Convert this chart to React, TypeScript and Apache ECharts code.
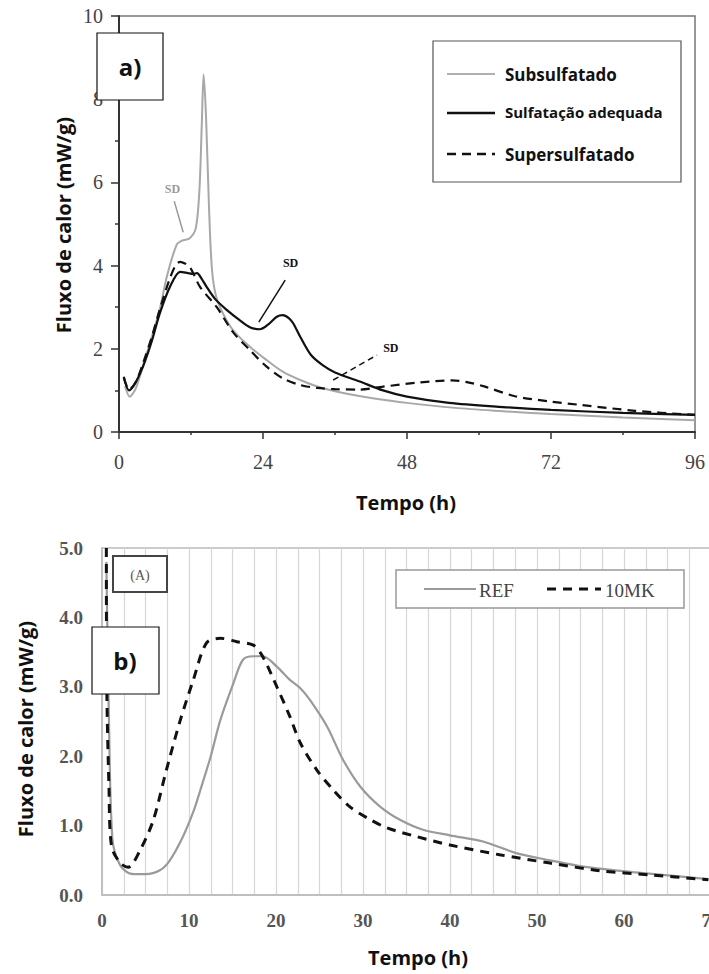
import React, { useEffect, useRef } from "react";
import * as echarts from "echarts";

// ---------- Chart a) ----------
const aXTicks = [0, 24, 48, 72, 96];
const aSubsulfatado: number[][] = [
  [1, 1.1], [1.8, 0.85], [2.8, 1.05], [4, 1.6], [5.5, 2.3], [6.8, 2.95], [8, 3.75], [9.6, 4.5],
  [10.5, 4.6], [11.8, 4.66], [12.8, 4.9], [13.4, 5.8], [13.8, 7.4], [14.1, 8.6], [14.5, 7.6],
  [15, 5.4], [15.5, 3.9], [16.2, 3.25], [17.5, 2.8], [19, 2.45], [21.8, 2.05], [24.6, 1.73],
  [27.3, 1.45], [30.2, 1.25], [34, 1.05], [38, 0.92], [42, 0.82], [48, 0.7], [56, 0.58],
  [64, 0.5], [72, 0.43], [84, 0.35], [96, 0.28],
];
const aAdequada: number[][] = [
  [0.8, 1.33], [1.7, 1.0], [2.8, 1.2], [4, 1.57], [5.5, 2.2], [6.8, 2.85], [8.5, 3.49], [10.2, 3.85],
  [11.5, 3.82], [12.3, 3.8], [13, 3.82], [13.7, 3.7], [14.6, 3.49], [16, 3.2], [18, 2.93], [20, 2.7],
  [21.8, 2.52], [23.5, 2.47], [25, 2.6], [26.3, 2.77], [27.3, 2.81], [28.3, 2.74], [29, 2.62],
  [30.2, 2.29], [32, 1.85], [34, 1.6], [36, 1.43], [40, 1.22], [44, 1.0], [48, 0.85], [55, 0.7],
  [64, 0.6], [72, 0.53], [84, 0.46], [96, 0.41],
];
const aSuper: number[][] = [
  [0.8, 1.3], [1.7, 1.02], [2.8, 1.2], [4, 1.65], [5.5, 2.3], [6.8, 2.95], [8.5, 3.7], [9.5, 4.02],
  [10.2, 4.09], [11, 4.05], [11.8, 3.97], [13.5, 3.49], [16.3, 3.0], [19, 2.4], [21.8, 1.97],
  [24.6, 1.57], [27.3, 1.29], [30.2, 1.13], [33, 1.06], [36, 1.03], [40, 1.02], [44, 1.09],
  [50, 1.19], [55.5, 1.24], [58, 1.2], [61, 1.09], [66, 0.86], [72, 0.73], [77, 0.65], [86, 0.51], [96, 0.41],
];
const aLegend = ["Subsulfatado", "Sulfatação adequada", "Supersulfatado"];

// ---------- Chart b) ----------
const bRef: number[][] = [
  [0.5, 4.8], [0.8, 2.5], [1.2, 0.8], [2, 0.45], [3, 0.32], [4, 0.3], [5, 0.3], [6.7, 0.36],
  [7.8, 0.5], [9.3, 0.84], [10.5, 1.2], [11.3, 1.51], [12.5, 2.0], [13.6, 2.52], [15.1, 3.05],
  [16.2, 3.39], [17.4, 3.44], [18.5, 3.44], [20.1, 3.29], [21.6, 3.1], [22.8, 2.98], [23.9, 2.81],
  [25.9, 2.42], [27.7, 1.95], [29.7, 1.56], [32, 1.27], [34.3, 1.08], [36.9, 0.94], [40, 0.86],
  [43.8, 0.77], [47.7, 0.6], [51.5, 0.5], [55.3, 0.41], [61, 0.33], [69.7, 0.23],
];
const b10MK: number[][] = [
  [0.5, 5.0], [0.55, 3.0], [0.8, 1.56], [1.1, 0.7], [2.1, 0.46], [3, 0.4], [4.4, 0.65], [5.9, 1.08],
  [7.4, 1.8], [9, 2.52], [10.5, 3.1], [12, 3.63], [13.6, 3.7], [15.5, 3.65], [17.4, 3.6],
  [18.5, 3.43], [20.1, 3.0], [21.6, 2.57], [22.8, 2.19], [24.7, 1.8], [26.6, 1.51], [28.5, 1.27],
  [30.5, 1.11], [32.7, 0.97], [36.2, 0.84], [40, 0.72], [45.7, 0.58], [51.5, 0.46], [57.2, 0.35],
  [63, 0.29], [69.7, 0.22],
];
const bLegend = ["REF", "10MK"];

const SERIF = "Liberation Serif, Times New Roman, serif";
const SANS = "Open Sans, Noto Sans, sans-serif";

export default function App() {
  const ref = useRef<HTMLDivElement>(null);
  useEffect(() => {
    const chart = echarts.init(ref.current!, null, { renderer: "svg" });
    const axisLabelA = { fontFamily: SERIF, fontSize: 20, color: "#444" };
    const axisLabelB = { fontFamily: SERIF, fontSize: 19, color: "#555", fontWeight: "bold" as const };
    const option: any = {
      animation: false,
      backgroundColor: "#fff",
      grid: [
        { left: 119, top: 16, width: 576, height: 416, show: true, borderColor: "#777", borderWidth: 1.5, backgroundColor: "transparent", outerBoundsMode: "none", containLabel: false },
        { left: 102, top: 548, width: 609, height: 347, show: true, borderColor: "#bbb", borderWidth: 1.5, backgroundColor: "transparent", outerBoundsMode: "none", containLabel: false },
      ],
      xAxis: [
        {
          gridIndex: 0, type: "value", min: 0, max: 96, interval: 24,
          axisLine: { show: true, lineStyle: { color: "#333", width: 2 } },
          axisTick: { show: true, length: 7, lineStyle: { color: "#333", width: 1.5 } },
          minorTick: { show: true, splitNumber: 2, length: 3, lineStyle: { color: "#333", width: 1.5 } },
          splitLine: { show: false },
          axisLabel: { ...axisLabelA, margin: 20, formatter: (v: number) => (aXTicks.includes(v) ? String(v) : "") },
        },
        {
          gridIndex: 1, type: "value", min: 0, max: 70, interval: 10,
          axisLine: { show: true, lineStyle: { color: "#bbb", width: 1.5 } },
          axisTick: { show: false },
          minorTick: { show: false, splitNumber: 4 },
          splitLine: { show: true, lineStyle: { color: "#d6d6d6", width: 1.2 } },
          minorSplitLine: { show: true, lineStyle: { color: "#d6d6d6", width: 1.2 } },
          axisLabel: { ...axisLabelB, margin: 16, showMaxLabel: true },
        },
      ],
      yAxis: [
        {
          gridIndex: 0, type: "value", min: 0, max: 10, interval: 2,
          axisLine: { show: true, lineStyle: { color: "#333", width: 2 } },
          axisTick: { show: true, length: 8, lineStyle: { color: "#333", width: 1.5 } },
          minorTick: { show: true, splitNumber: 2, length: 4, lineStyle: { color: "#333", width: 1.5 } },
          splitLine: { show: false },
          axisLabel: { ...axisLabelA, margin: 16 },
        },
        {
          gridIndex: 1, type: "value", min: 0, max: 5, interval: 1,
          axisLine: { show: true, lineStyle: { color: "#bbb", width: 1.5 } },
          axisTick: { show: false },
          splitLine: { show: false },
          axisLabel: { ...axisLabelB, margin: 19, formatter: (v: number) => v.toFixed(1) },
        },
      ],
      series: [
        {
          name: aLegend[0], type: "line", xAxisIndex: 0, yAxisIndex: 0, data: aSubsulfatado,
          smooth: 0.3, showSymbol: false, lineStyle: { color: "#a8a8a8", width: 2 },
          markLine: {
            silent: true, symbol: ["none", "arrow"], symbolSize: [0, 8],
            lineStyle: { color: "#999", width: 1.5, type: "solid" }, label: { show: false },
            data: [[{ coord: [10.7, 4.8] }, { coord: [9.2, 5.55] }]],
          },
          markPoint: {
            silent: true, symbol: "circle", symbolSize: 0,
            label: { show: true, position: "inside", formatter: "SD", fontFamily: SERIF, fontWeight: "bold", fontSize: 12, color: "#9a9a9a" },
            data: [{ coord: [8.9, 5.85] }],
          },
        },
        {
          name: aLegend[1], type: "line", xAxisIndex: 0, yAxisIndex: 0, data: aAdequada,
          smooth: 0.3, showSymbol: false, lineStyle: { color: "#111", width: 2.2 },
          markLine: {
            silent: true, symbol: ["none", "arrow"], symbolSize: [0, 8],
            lineStyle: { color: "#111", width: 1.5, type: "solid" }, label: { show: false },
            data: [[{ coord: [23.3, 2.64] }, { coord: [27.7, 3.65] }]],
          },
          markPoint: {
            silent: true, symbol: "circle", symbolSize: 0,
            label: { show: true, position: "inside", formatter: "SD", fontFamily: SERIF, fontWeight: "bold", fontSize: 12, color: "#111" },
            data: [{ coord: [28.6, 4.06] }],
          },
        },
        {
          name: aLegend[2], type: "line", xAxisIndex: 0, yAxisIndex: 0, data: aSuper,
          smooth: 0.3, showSymbol: false, lineStyle: { color: "#111", width: 2.2, type: [9, 6] },
          markLine: {
            silent: true, symbol: ["none", "arrow"], symbolSize: [0, 8],
            lineStyle: { color: "#111", width: 1.5, type: [6, 4] }, label: { show: false },
            data: [[{ coord: [35.7, 1.25] }, { coord: [43, 1.85] }]],
          },
          markPoint: {
            silent: true, symbol: "circle", symbolSize: 0,
            label: { show: true, position: "inside", formatter: "SD", fontFamily: SERIF, fontWeight: "bold", fontSize: 12, color: "#111" },
            data: [{ coord: [45.3, 2.02] }],
          },
        },
        {
          name: bLegend[0], type: "line", xAxisIndex: 1, yAxisIndex: 1, data: bRef,
          smooth: 0.3, showSymbol: false, lineStyle: { color: "#9a9a9a", width: 2.2 },
        },
        {
          name: bLegend[1], type: "line", xAxisIndex: 1, yAxisIndex: 1, data: b10MK,
          smooth: 0.3, showSymbol: false, lineStyle: { color: "#111", width: 3, type: [9, 7] },
        },
      ],
      graphic: [
        // axis titles a
        { type: "text", x: 63, y: 225, rotation: Math.PI / 2, style: { text: "Fluxo de calor (mW/g)", fontFamily: SANS, fontWeight: "bold", fontSize: 20, fill: "#111", align: "center", verticalAlign: "middle" } },
        { type: "text", x: 406, y: 502, style: { text: "Tempo (h)", fontFamily: SANS, fontWeight: "bold", fontSize: 20, fill: "#111", align: "center", verticalAlign: "middle" } },
        // a) box
        { type: "rect", z: 100, shape: { x: 97, y: 33, width: 66, height: 67 }, style: { fill: "#fff", stroke: "#111", lineWidth: 1.2 } },
        { type: "text", z: 101, x: 130, y: 66, style: { text: "a)", fontFamily: SANS, fontWeight: "bold", fontSize: 24, fill: "#111", align: "center", verticalAlign: "middle" } },
        // legend a
        { type: "rect", z: 100, shape: { x: 433, y: 41, width: 248, height: 141 }, style: { fill: "#fff", stroke: "#555", lineWidth: 1.2 } },
        { type: "line", z: 101, shape: { x1: 447, y1: 74, x2: 495, y2: 74 }, style: { stroke: "#b0b0b0", lineWidth: 2 } },
        { type: "text", z: 101, x: 505, y: 74, style: { text: aLegend[0], fontFamily: SANS, fontWeight: "bold", fontSize: 17, fill: "#111", verticalAlign: "middle" } },
        { type: "line", z: 101, shape: { x1: 447, y1: 113, x2: 495, y2: 113 }, style: { stroke: "#111", lineWidth: 2.5 } },
        { type: "text", z: 101, x: 505, y: 112, style: { text: aLegend[1], fontFamily: SANS, fontWeight: "bold", fontSize: 15, fill: "#111", verticalAlign: "middle" } },
        { type: "line", z: 101, shape: { x1: 447, y1: 154, x2: 495, y2: 154 }, style: { stroke: "#111", lineWidth: 2.5, lineDash: [9, 6] } },
        { type: "text", z: 101, x: 505, y: 154, style: { text: aLegend[2], fontFamily: SANS, fontWeight: "bold", fontSize: 17, fill: "#111", verticalAlign: "middle" } },
        // axis titles b
        { type: "text", x: 25, y: 729, rotation: Math.PI / 2, style: { text: "Fluxo de calor (mW/g)", fontFamily: SANS, fontWeight: "bold", fontSize: 20, fill: "#111", align: "center", verticalAlign: "middle" } },
        { type: "text", x: 418, y: 957, style: { text: "Tempo (h)", fontFamily: SANS, fontWeight: "bold", fontSize: 20, fill: "#111", align: "center", verticalAlign: "middle" } },
        // (A) box
        { type: "rect", z: 100, shape: { x: 113, y: 556, width: 54, height: 36 }, style: { fill: "#fff", stroke: "#444", lineWidth: 2 } },
        { type: "text", z: 101, x: 140, y: 575, style: { text: "(A)", fontFamily: SERIF, fontSize: 14, fill: "#555", align: "center", verticalAlign: "middle" } },
        // b) box
        { type: "rect", z: 100, shape: { x: 92, y: 627, width: 67, height: 67 }, style: { fill: "#fff", stroke: "#111", lineWidth: 1.2 } },
        { type: "text", z: 101, x: 125, y: 660, style: { text: "b)", fontFamily: SANS, fontWeight: "bold", fontSize: 24, fill: "#111", align: "center", verticalAlign: "middle" } },
        // legend b
        { type: "rect", z: 100, shape: { x: 396, y: 570, width: 288, height: 38 }, style: { fill: "#fff", stroke: "#999", lineWidth: 1.5 } },
        { type: "line", z: 101, shape: { x1: 424, y1: 589, x2: 476, y2: 589 }, style: { stroke: "#9a9a9a", lineWidth: 2.2 } },
        { type: "text", z: 101, x: 479, y: 590, style: { text: bLegend[0], fontFamily: SERIF, fontSize: 19, fill: "#444", verticalAlign: "middle" } },
        { type: "line", z: 101, shape: { x1: 547, y1: 589, x2: 601, y2: 589 }, style: { stroke: "#111", lineWidth: 3, lineDash: [9, 7] } },
        { type: "text", z: 101, x: 605, y: 590, style: { text: bLegend[1], fontFamily: SERIF, fontSize: 19, fill: "#444", verticalAlign: "middle" } },
      ],
    };
    chart.setOption(option);
    return () => chart.dispose();
  }, []);
  return (
    <div
      ref={ref}
      style={{ position: "absolute", left: 0, top: 0, width: 709, height: 974, background: "#fff" }}
    />
  );
}
